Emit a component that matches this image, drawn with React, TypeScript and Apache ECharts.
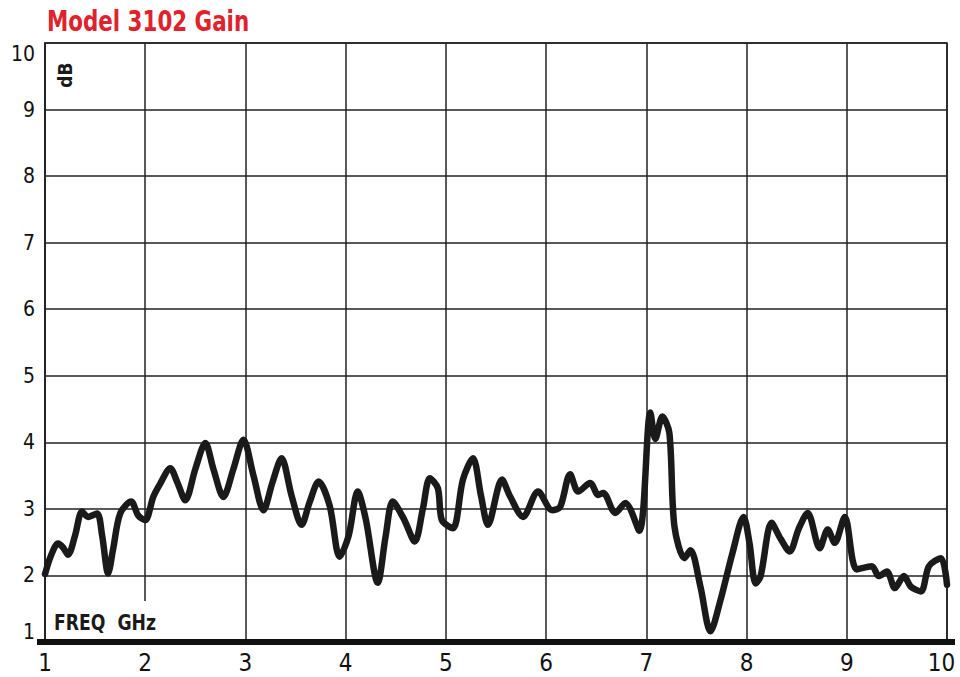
import React, { useEffect, useRef } from "react";
import * as echarts from "echarts";

const freqGHz = [
  1.0, 1.06, 1.13, 1.18, 1.23, 1.3, 1.37, 1.43, 1.52, 1.57, 1.63, 1.68, 1.75, 1.86, 1.93,
  2.0, 2.08, 2.15, 2.25, 2.32, 2.4, 2.5, 2.6, 2.68, 2.78, 2.88, 2.98, 3.08, 3.18, 3.27,
  3.36, 3.46, 3.56, 3.64, 3.73, 3.84, 3.94, 4.03, 4.12, 4.2, 4.32, 4.4, 4.47, 4.58, 4.69,
  4.77, 4.84, 4.92, 4.96, 5.07, 5.17, 5.27, 5.35, 5.42, 5.56, 5.64, 5.77, 5.92, 6.06, 6.14,
  6.24, 6.32, 6.44, 6.52, 6.57, 6.69, 6.79, 6.93, 7.04, 7.09, 7.16, 7.23, 7.28, 7.38, 7.44,
  7.54, 7.64, 7.74, 7.86, 7.97, 8.03, 8.09, 8.14, 8.25, 8.34, 8.43, 8.52, 8.61, 8.73, 8.81,
  8.88, 8.98, 9.1, 9.25, 9.32, 9.4, 9.48, 9.57, 9.64, 9.74, 9.82, 9.94, 10.0,
];

const gainDb = [
  2.02, 2.3, 2.48, 2.42, 2.31, 2.6, 2.96, 2.88, 2.93, 2.6, 2.03, 2.4, 2.93, 3.11, 2.9,
  2.83, 3.18, 3.38, 3.61, 3.4, 3.13, 3.6, 3.99, 3.6, 3.18, 3.6, 4.04, 3.5, 2.98, 3.4,
  3.76, 3.2, 2.76, 3.1, 3.41, 3.05, 2.28, 2.6, 3.26, 2.85, 1.89, 2.6, 3.11, 2.85, 2.51,
  3.0, 3.46, 3.31, 2.83, 2.71, 3.44, 3.76, 3.2, 2.76, 3.44, 3.19, 2.88, 3.26, 2.98, 3.03,
  3.52, 3.26, 3.39, 3.21, 3.24, 2.94, 3.09, 2.67, 4.45, 4.05, 4.39, 4.14, 2.74, 2.26, 2.38,
  1.83, 1.16, 1.63, 2.34, 2.88, 2.48, 1.88, 1.99, 2.79, 2.55, 2.36, 2.7, 2.94, 2.41, 2.69,
  2.49, 2.88, 2.09, 2.14, 1.99, 2.06, 1.81, 1.99, 1.83, 1.76, 2.14, 2.26, 1.86,
];

const xTicks = [1, 2, 3, 4, 5, 6, 7, 8, 9, 10];
const yTicks = [1, 2, 3, 4, 5, 6, 7, 8, 9, 10];

const titleText = "Model 3102 Gain";
const yUnitText = "dB";
const xUnitText = "FREQ  GHz";

const NARROW = "'Liberation Sans Narrow', 'Arial Narrow', 'DejaVu Sans Condensed', sans-serif";
const INK = "#1a1a1a";

export default function App() {
  const ref = useRef<HTMLDivElement | null>(null);

  useEffect(() => {
    if (!ref.current) return;
    const chart = echarts.init(ref.current, undefined, { renderer: "svg" });
    const data = freqGHz.map((f, i) => [f, gainDb[i]]);
    const xMax = xTicks[xTicks.length - 1];

    chart.setOption({
      animation: false,
      backgroundColor: "#ffffff",
      grid: {
        left: 45,
        top: 43,
        right: 13,
        bottom: 35,
        containLabel: false,
        outerBoundsMode: "none",
        show: true,
        borderColor: "#222",
        borderWidth: 1.5,
        backgroundColor: "transparent",
      },
      xAxis: {
        type: "value",
        min: xTicks[0],
        max: xMax,
        interval: 1,
        axisLine: { show: true, lineStyle: { color: "#111", width: 6 } },
        axisTick: { show: false },
        splitLine: { show: true, lineStyle: { color: "#222", width: 1.5 } },
        axisLabel: {
          color: "#111",
          fontSize: 24,
          fontFamily: NARROW,
          margin: 9,
          formatter: (v: number) => (v === xMax ? `{r|${v}}` : String(v)),
          rich: {
            r: {
              color: "#111",
              fontSize: 24,
              fontFamily: NARROW,
              padding: [0, 11, 0, 0],
            },
          },
        },
      },
      yAxis: {
        type: "value",
        min: yTicks[0],
        max: yTicks[yTicks.length - 1],
        interval: 1,
        axisLine: { show: true, lineStyle: { color: "#222", width: 1.5 } },
        axisTick: { show: false },
        splitLine: { show: true, lineStyle: { color: "#222", width: 1.5 } },
        axisLabel: {
          color: "#111",
          fontSize: 21,
          fontFamily: NARROW,
          margin: 10,
          verticalAlignMinLabel: "bottom",
          verticalAlignMaxLabel: "top",
          formatter: (v: number) => String(v),
        },
      },
      series: [
        {
          type: "line",
          data,
          smooth: 0.3,
          showSymbol: false,
          symbol: "none",
          lineStyle: { color: INK, width: 6.5, cap: "round", join: "round" },
          z: 5,
        },
      ],
    });

    const p2 = chart.convertToPixel({ gridIndex: 0 }, [2, 1]) as number[];
    const p1 = chart.convertToPixel({ gridIndex: 0 }, [1, 1]) as number[];
    const pTop = chart.convertToPixel({ gridIndex: 0 }, [1, 10]) as number[];

    chart.setOption({
      graphic: [
        {
          type: "text",
          x: p1[0] + 2,
          y: 21,
          scaleX: 0.85,
          style: {
            text: titleText,
            fill: "#e0222c",
            font: `bold 28px ${NARROW}`,
            align: "left",
            verticalAlign: "middle",
          },
          z: 4,
        },
        {
          type: "rect",
          shape: { x: p2[0] - 3, y: p2[1] - 41, width: 6, height: 38 },
          style: { fill: "#ffffff" },
          z: 1,
        },
        {
          type: "rect",
          shape: { x: p1[0] - 8, y: p1[1] - 3, width: 960 - 5 - (p1[0] - 8), height: 6 },
          style: { fill: "#111" },
          z: 3,
        },
        {
          type: "text",
          x: p1[0] + 9,
          y: p1[1] - 8,
          scaleX: 0.87,
          style: {
            text: xUnitText,
            fill: INK,
            font: `bold 22px ${NARROW}`,
            verticalAlign: "bottom",
          },
          z: 4,
        },
        {
          type: "text",
          x: p1[0] + 20,
          y: pTop[1] + 32,
          rotation: Math.PI / 2,
          style: {
            text: yUnitText,
            fill: INK,
            font: `bold 19px ${NARROW}`,
            align: "center",
            verticalAlign: "middle",
          },
          z: 4,
        },
      ],
    });

    return () => chart.dispose();
  }, []);

  return (
    <div
      ref={ref}
      style={{ position: "absolute", left: 0, top: 0, width: 960, height: 677 }}
    />
  );
}
